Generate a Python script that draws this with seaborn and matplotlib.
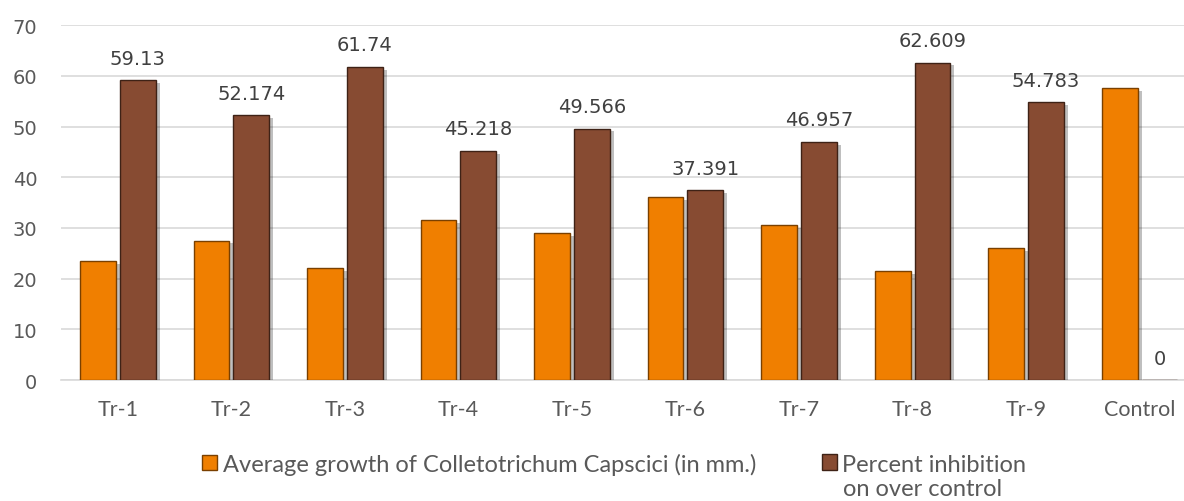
import pandas as pd
import matplotlib
matplotlib.use("Agg")
from matplotlib import pyplot as plt
from matplotlib import patheffects as pe
from matplotlib.patches import Patch
import seaborn as sns

treatments = ["Tr-1", "Tr-2", "Tr-3", "Tr-4", "Tr-5", "Tr-6", "Tr-7", "Tr-8", "Tr-9", "Control"]
avg_growth = [23.5, 27.5, 22.0, 31.5, 29.0, 36.0, 30.5, 21.5, 26.0, 57.5]
inhibition = [59.13, 52.174, 61.74, 45.218, 49.566, 37.391, 46.957, 62.609, 54.783, 0]
inhibition_labels = ["59.13", "52.174", "61.74", "45.218", "49.566", "37.391", "46.957", "62.609", "54.783", "0"]
series = ["Average growth of Colletotrichum Capscici (in mm.)", "Percent inhibition on over control"]
colors = ["#F07F00", "#874B32"]
edges = ["#7A4000", "#3E2216"]


def build_frame():
    """Long table for seaborn."""
    rows = []
    for t, g, p in zip(treatments, avg_growth, inhibition):
        rows.append({"Treatment": t, "Series": series[0], "Value": g})
        rows.append({"Treatment": t, "Series": series[1], "Value": p})
    return pd.DataFrame(rows)


def plot_chart(df):
    sns.set_style("white")
    plt.rcParams["font.family"] = ["DejaVu Sans"]
    fig = plt.figure(figsize=(11.84, 5.02), dpi=100)
    # plot area runs a little past the right edge, as in the cropped original
    ax = fig.add_axes([0.0515, 0.241, 0.959, 0.707])

    sns.barplot(data=df, x="Treatment", y="Value", hue="Series", hue_order=series,
                palette=colors, saturation=1, width=0.7, gap=0.1, ax=ax,
                legend=False, errorbar=None, zorder=3)

    shadow = [pe.SimplePatchShadow(offset=(3, -2), shadow_rgbFace="#000000", alpha=0.25), pe.Normal()]
    for cont, ec in zip(ax.containers, edges):
        for bar in cont:
            bar.set_edgecolor(ec)
            bar.set_linewidth(1.0)
            bar.set_path_effects(shadow)

    ax.bar_label(ax.containers[1], labels=inhibition_labels, padding=9,
                 fontsize=14, color="#404040")

    ax.set_ylim(0, 70)
    ax.set_yticks(range(0, 71, 10))
    ax.set_xlim(-0.5, len(treatments) - 0.5)
    ax.yaxis.grid(True, color="#D9D9D9", linewidth=1.2, zorder=0)
    ax.set_axisbelow(True)
    for s in ["top", "right", "left"]:
        ax.spines[s].set_visible(False)
    ax.spines["bottom"].set_color("#D9D9D9")
    ax.spines["bottom"].set_linewidth(1.2)
    ax.tick_params(axis="both", length=0, labelcolor="#595959")
    ax.tick_params(axis="y", pad=17, labelsize=14)
    ax.tick_params(axis="x", pad=14, labelsize=15.5)
    for lab in ax.get_xticklabels():
        lab.set_family(["Lato", "DejaVu Sans"])
    ax.set_xlabel("")
    ax.set_ylabel("")

    legend_font = {"family": ["Lato", "DejaVu Sans"], "size": 17}
    h1 = Patch(facecolor=colors[0], edgecolor=edges[0])
    h2 = Patch(facecolor=colors[1], edgecolor=edges[1])
    common = dict(frameon=False, prop=legend_font, handlelength=0.63, handleheight=0.63,
                  handletextpad=0.25, labelcolor="#595959", borderpad=0, borderaxespad=0,
                  loc="center left")
    fig.legend([h1], [series[0]], bbox_to_anchor=(0.1706, 0.0737), **common)
    fig.legend([h2], ["Percent inhibition"], bbox_to_anchor=(0.694, 0.0737), **common)
    fig.text(0.712, 0.024, "on over control", ha="left", va="center",
             color="#595959", fontdict=legend_font)

    fig.savefig("out.png", dpi=100)


def main():
    df = build_frame()
    plot_chart(df)


if __name__ == "__main__":
    main()
